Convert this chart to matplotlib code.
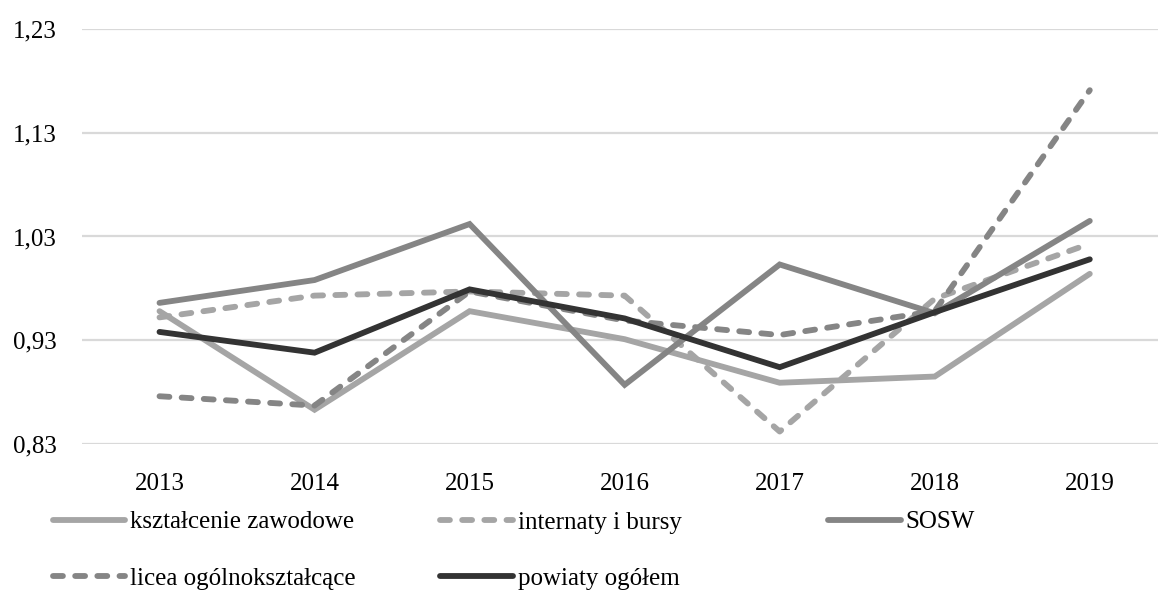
import matplotlib
matplotlib.use("Agg")
import matplotlib.pyplot as plt

# dane
years = ["2013", "2014", "2015", "2016", "2017", "2018", "2019"]
ksztalcenie = [0.958, 0.863, 0.958, 0.931, 0.889, 0.895, 0.994]
internaty = [0.952, 0.973, 0.977, 0.973, 0.842, 0.970, 1.023]
sosw = [0.966, 0.988, 1.042, 0.887, 1.003, 0.956, 1.045]
licea = [0.876, 0.867, 0.977, 0.949, 0.935, 0.958, 1.171]
powiaty = [0.938, 0.918, 0.979, 0.951, 0.904, 0.957, 1.008]
yticks = [0.83, 0.93, 1.03, 1.13, 1.23]

plt.rcParams['font.family'] = ['Liberation Serif', 'DejaVu Serif']

fig = plt.figure(figsize=(11.58, 5.90), dpi=100)
ax = fig.add_axes([0.0708, 0.2475, 0.9292, 0.7034])

x = list(range(len(years)))
dash = (0, (1.7, 2.1))
lw = 4.2
common = dict(lw=lw, solid_capstyle='round', dash_capstyle='round', solid_joinstyle='miter')

l1, = ax.plot(x, ksztalcenie, color='#a5a5a5', label='kształcenie zawodowe', **common)
l2, = ax.plot(x, internaty, color='#a5a5a5', ls=dash, label='internaty i bursy', **common)
l3, = ax.plot(x, sosw, color='#858585', label='SOSW', **common)
l4, = ax.plot(x, licea, color='#858585', ls=dash, label='licea ogólnokształcące', **common)
l5, = ax.plot(x, powiaty, color='#333333', label='powiaty ogółem', **common)

ax.set_xlim(-0.5, 6.44)
ax.set_ylim(0.83, 1.23)
ax.set_yticks(yticks)
ax.set_yticklabels([f"{v:.2f}".replace('.', ',') for v in yticks])
ax.set_xticks(x)
ax.set_xticklabels(years)
ax.grid(axis='y', color='#d9d9d9', lw=1.6)
ax.set_axisbelow(True)
for s in ax.spines.values():
    s.set_visible(False)
ax.tick_params(axis='both', length=0, labelsize=18)
ax.tick_params(axis='y', pad=18)
ax.tick_params(axis='x', pad=21)

# legenda w trzech kolumnach, jak w Excelu
leg_kw = dict(frameon=False, fontsize=18, handlelength=2.9, handletextpad=0.2,
              labelspacing=1.35, borderpad=0, borderaxespad=0, loc='upper left')
cols = [([l1, l4], 53), ([l2, l5], 440), ([l3], 828)]
for handles, px in cols:
    fig.legend(handles=handles, labels=[h.get_label() for h in handles],
               bbox_to_anchor=(px / 1158, 1 - 511 / 590), **leg_kw)

fig.savefig("out.png", dpi=100)
